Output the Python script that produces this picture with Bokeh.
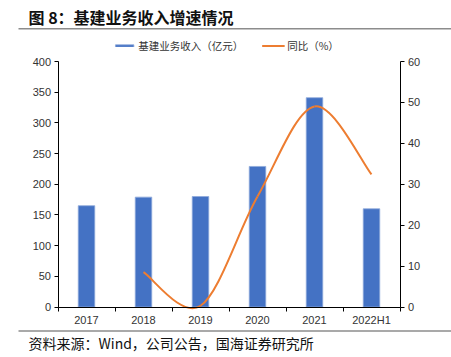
from bokeh.plotting import figure
from bokeh.models import (Range1d, LinearAxis, FixedTicker, Legend, LegendItem, Label,
                          BoxAnnotation)
from bokeh.embed import file_html
from bokeh.resources import INLINE

# ---- data ----
categories = ["2017", "2018", "2019", "2020", "2021", "2022H1"]
revenue = [165, 179, 180, 229, 341, 160]          # 基建业务收入（亿元）
yoy_idx = [1, 2, 3, 4, 5]                          # category index of 同比 values
yoy = [8.5, 0.3, 27.0, 49.0, 32.4]                 # 同比（%）
left_ticks = [0, 50, 100, 150, 200, 250, 300, 350, 400]
right_ticks = [0, 10, 20, 30, 40, 50, 60]
left_max, right_max = 400, 60
title_text = "图 8：基建业务收入增速情况"
source_text = "资料来源：Wind，公司公告，国海证券研究所"
legend_labels = ["基建业务收入（亿元）", "同比（%）"]

BLUE = "#4472C4"
ORANGE = "#ED7D31"
CJK = "Noto Sans CJK SC"
LAT = "Liberation Sans"

# page geometry (pixels): plot box and canvas
W, H = 451, 357
PL, PR, PT, PB = 57.5, 399.5, 61.0, 306.5
n = len(categories)
ux = (PR - PL) / n                       # px per category
uyl = (PB - PT) / left_max               # px per left unit
uyr = (PB - PT) / right_max              # px per right unit

p = figure(width=W, height=H,
           x_range=Range1d(-0.5 - PL / ux, -0.5 + (W - PL) / ux),
           y_range=Range1d(-(H - PB) / uyl, left_max + PT / uyl),
           output_backend="svg", toolbar_location=None, title=None, min_border=0)
p.grid.visible = False
p.outline_line_color = None
p.extra_y_ranges = {"right": Range1d(-(H - PB) / uyr, right_max + PT / uyr)}

bars = p.vbar(x=list(range(n)), top=revenue, width=0.29, fill_color=BLUE, line_color="#8eaadb",
              line_width=0.8)

# smooth (Catmull-Rom style) curve through the 同比 points
xs = yoy_idx
ys = yoy
m = len(xs)
x0s, y0s, x1s, y1s, cx0s, cy0s, cx1s, cy1s = [], [], [], [], [], [], [], []
for i in range(m - 1):
    pxm, pym = (xs[i - 1], ys[i - 1]) if i > 0 else (xs[i], ys[i])
    pxp, pyp = (xs[i + 2], ys[i + 2]) if i + 2 < m else (xs[i + 1], ys[i + 1])
    x0s.append(xs[i]); y0s.append(ys[i]); x1s.append(xs[i + 1]); y1s.append(ys[i + 1])
    cx0s.append(xs[i] + (xs[i + 1] - pxm) / 6); cy0s.append(ys[i] + (ys[i + 1] - pym) / 6)
    cx1s.append(xs[i + 1] - (pxp - xs[i]) / 6); cy1s.append(ys[i + 1] - (pyp - ys[i]) / 6)
curve = p.bezier(x0=x0s, y0=y0s, x1=x1s, y1=y1s, cx0=cx0s, cy0=cy0s, cx1=cx1s, cy1=cy1s,
                 line_color=ORANGE, line_width=2, y_range_name="right")

# x axis (drawn at value 0)
xa = p.xaxis[0]
xa.fixed_location = 0
xa.bounds = (-0.5, n - 0.5)
xa.ticker = FixedTicker(ticks=list(range(n)), minor_ticks=[i - 0.5 for i in range(n + 1)])
xa.major_label_overrides = {i: c for i, c in enumerate(categories)}
xa.major_tick_out = 0
xa.major_tick_in = 0
xa.minor_tick_out = 4
xa.minor_tick_in = 0
xa.minor_tick_line_color = "#000000"
xa.axis_line_color = "#000000"
xa.major_label_text_font = LAT
xa.major_label_text_font_size = "11px"
xa.major_label_text_color = "#333333"
xa.major_label_standoff = 3

# left axis
ya = p.yaxis[0]
ya.fixed_location = -0.5
ya.ticker = FixedTicker(ticks=left_ticks)
ya.bounds = (0, left_max)
ya.major_tick_out = 4
ya.major_tick_in = 0
ya.minor_tick_out = 0
ya.minor_tick_in = 0
ya.axis_line_color = "#000000"
ya.major_tick_line_color = "#000000"
ya.major_label_text_font = LAT
ya.major_label_text_font_size = "11px"
ya.major_label_text_color = "#333333"
ya.major_label_standoff = 3

# right axis
ra = LinearAxis(y_range_name="right", ticker=FixedTicker(ticks=right_ticks),
                bounds=(0, right_max), fixed_location=n - 0.5)
ra.major_tick_out = 4
ra.major_tick_in = 0
ra.minor_tick_out = 0
ra.minor_tick_in = 0
ra.axis_line_color = "#000000"
ra.major_tick_line_color = "#000000"
ra.major_label_text_font = LAT
ra.major_label_text_font_size = "11px"
ra.major_label_text_color = "#333333"
ra.major_label_standoff = 4
p.add_layout(ra, "right")

legend = Legend(items=[LegendItem(label=legend_labels[0], renderers=[bars]),
                       LegendItem(label=legend_labels[1], renderers=[curve])],
                orientation="horizontal", location="top_center",
                glyph_width=23, glyph_height=3, label_height=12, label_standoff=3,
                spacing=18, padding=0, margin=38, border_line_color=None,
                background_fill_alpha=0, label_text_font=CJK, label_text_font_size="10.5px",
                label_text_color="#333333")
p.add_layout(legend, "center")

# title, source and rules (screen units, origin at bottom-left of the canvas)
p.add_layout(Label(x=28, y=H - 16, x_units="screen", y_units="screen", text=title_text,
                   text_font=CJK, text_font_size="16px", text_font_style="bold",
                   text_baseline="middle", text_color="#111111"))
p.add_layout(Label(x=28, y=H - 342, x_units="screen", y_units="screen", text=source_text,
                   text_font=CJK, text_font_size="14px", text_baseline="middle",
                   text_color="#111111"))
p.add_layout(BoxAnnotation(left=18, right=W, top=H - 27.5, bottom=H - 29,
                           left_units="screen", right_units="screen",
                           top_units="screen", bottom_units="screen",
                           fill_color="#8c8c8c", fill_alpha=1, line_color=None))
p.add_layout(BoxAnnotation(left=18, right=W, top=H - 330, bottom=H - 331,
                           left_units="screen", right_units="screen",
                           top_units="screen", bottom_units="screen",
                           fill_color="#555555", fill_alpha=1, line_color=None))

open("out.html", "w").write(file_html(p, INLINE))
